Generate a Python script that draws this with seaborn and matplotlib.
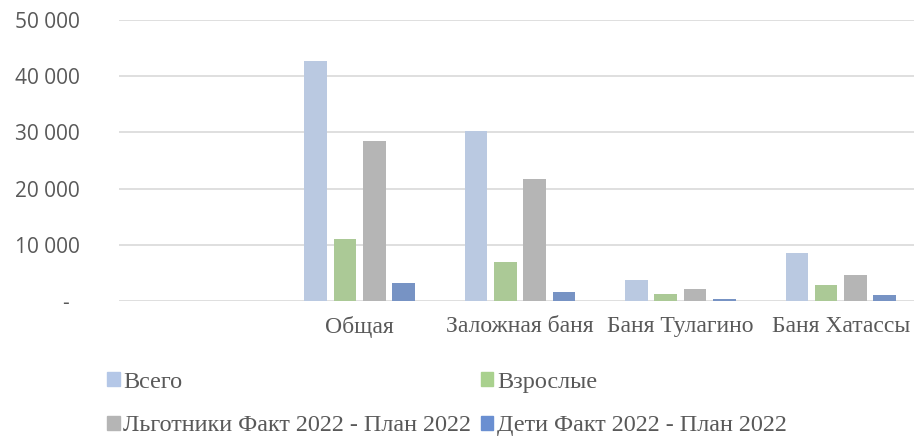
import pandas as pd
import seaborn as sns
import matplotlib.pyplot as plt
from matplotlib.patches import Patch
from matplotlib.ticker import FuncFormatter

# values
categories = [" ", "Общая", "Заложная баня", "Баня Тулагино", "Баня Хатассы"]
places = ["Общая", "Заложная баня", "Баня Тулагино", "Баня Хатассы"]
series = ["Всего", "Взрослые", "Льготники Факт 2022 - План 2022", "Дети Факт 2022 - План 2022"]
vsego = [42700, 30250, 3750, 8600]
vzroslye = [11050, 6900, 1200, 2850]
lgotniki = [28500, 21700, 2100, 4650]
deti = [3150, 1550, 400, 1070]
colors = ["#B4C7E7", "#A9D18E", "#B5B5B5", "#6A8FD1"]

df = pd.DataFrame({"place": places * 4,
                   "series": [s for s in series for _ in places],
                   "value": vsego + vzroslye + lgotniki + deti})

sns.set_theme(style="white")
plt.rcParams['font.family'] = ['Open Sans', 'DejaVu Sans']

fig = plt.figure(figsize=(9.14, 4.36), dpi=100)
ax = fig.add_axes([119/914, 1 - 301/436, 802/914, 281/436])

sns.barplot(data=df, x="place", y="value", hue="series", order=categories,
            hue_order=series, palette=colors, width=0.73, gap=0.23,
            linewidth=0, ax=ax, legend=False)

ax.set_ylim(0, 50000)
ax.set_yticks(range(0, 50001, 10000))
ax.yaxis.set_major_formatter(FuncFormatter(
    lambda v, p: "-  " if v == 0 else f"{v:,.0f}".replace(",", " ")))
ax.grid(axis="y", color="#D9D9D9", linewidth=1.2)
ax.set_axisbelow(True)
for s in ax.spines.values():
    s.set_visible(False)
ax.tick_params(axis="y", length=0, pad=28, labelsize=15, labelcolor="#595959")
ax.tick_params(axis="x", length=0, pad=11)
ax.set_xticks(range(len(categories)))
ax.set_xticklabels(categories, family="Liberation Serif", fontsize=17, color="#595959")
ax.set_xlabel("")
ax.set_ylabel("")

handles = [Patch(color=c, label=s) for c, s in zip(colors, series)]
order = [0, 2, 1, 3]
fig.legend([handles[i] for i in order], [series[i] for i in order],
           loc="upper left", bbox_to_anchor=(107/914, 1 - 372/436), ncol=2,
           frameon=False, borderpad=0, borderaxespad=0,
           handlelength=0.52, handleheight=0.52,
           handletextpad=0.15, columnspacing=0.4, labelspacing=0.92,
           prop={"family": "Liberation Serif", "size": 17.4}, labelcolor="#595959")

fig.savefig("out.png", dpi=100)
